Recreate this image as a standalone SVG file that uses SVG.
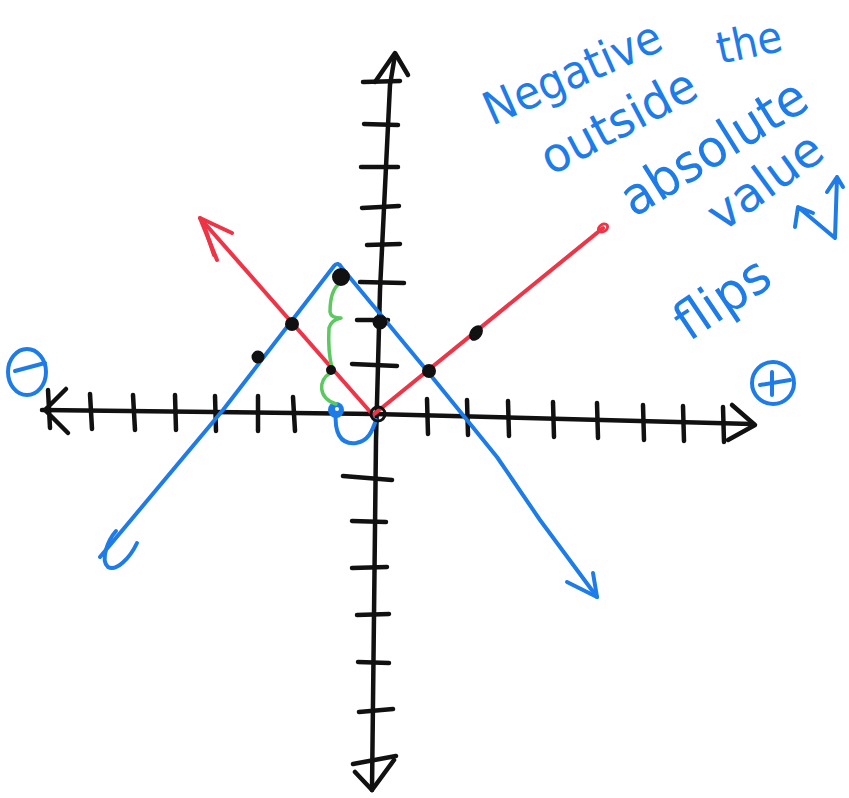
<svg xmlns="http://www.w3.org/2000/svg" width="849" height="798" viewBox="0 0 849 798">
<style>
.k{fill:none;stroke:#111;stroke-width:4.5;stroke-linecap:round;stroke-linejoin:round}
.r{fill:none;stroke:#ee3446;stroke-width:4;stroke-linecap:round;stroke-linejoin:round}
.b{fill:none;stroke:#1d7ce8;stroke-width:4;stroke-linecap:round;stroke-linejoin:round}
.g{fill:none;stroke:#5cc860;stroke-width:3.5;stroke-linecap:round;stroke-linejoin:round}
.dot{fill:#111;stroke:#111;stroke-width:2}
.t{font-family:"DejaVu Sans","Noto Sans",sans-serif;fill:#1d7ce8;font-weight:normal}
</style>
<rect width="849" height="798" fill="#fff"/>
<g id="x-axis">
<path class="k" d="M42,410 L375,414 L752,424"/>
<path class="k" d="M66,389 L45,410 L68,433 M48,390 L50,428"/>
<path class="k" d="M732,405 L755,425 L728,440"/>
<path class="k" d="M90,394 L92,429 M133,395 L135,430 M175,395 L176,430 M215,396 L216,431 M258,396 L258,431 M293,397 L295,431 M427,399 L428,434 M467,400 L468,435 M508,401 L509,436 M553,402 L554,437 M597,403 L598,438 M643,405 L644,440 M683,406 L684,441 M723,407 L724,442"/>
</g>
<g id="y-axis">
<path class="k" d="M395,55 L390,85 L380,290 L376,440 L372,790"/>
<path class="k" d="M375,82 L395,53 L408,75"/>
<path class="k" d="M355,772 L372,790 L394,760"/>
<path class="k" d="M363,82 L400,81 M364,124 L398,125 M361,167 L398,167 M362,208 L399,206 M367,245 L400,244 M360,282 L404,283 M357,320 L388,320 M352,364 L397,366 M343,476 L392,480 M352,521 L386,522 M352,568 L387,567 M357,615 L389,614 M358,662 L389,663 M359,712 L393,709 M353,764 L396,756"/>
</g>
<g id="red-graph">
<path class="r" d="M200,218 L373,415 L603,228"/>
<path class="r" d="M232,233 L200,218 L217,260"/>
<path class="r" d="M203,222 L214,255" stroke-width="6"/>
<ellipse cx="603" cy="228" rx="5" ry="3.5" transform="rotate(-35 603 228)" fill="none" stroke="#ee3446" stroke-width="3"/>
</g>
<g id="blue-graph">
<path class="b" d="M100,557 L223,410 L334,266 Q338,261 342,268 L428,372 L497,457 L540,520 L597,597"/>
<path class="b" d="M567,582 L597,597 L593,573"/>
<path class="b" d="M116,531 C108,540 100,560 108,567 C116,572 130,558 137,543"/>
<path class="b" d="M336,411 C334,432 340,445 356,443 C368,441 372,432 376,420"/>
<circle cx="336" cy="410" r="8" fill="#1d7ce8"/>
<circle cx="337" cy="409" r="2" fill="#fff"/>
</g>
<g id="brace">
<path class="g" d="M340,283 C330,290 330,305 330,312 Q331,318 341,318 Q331,320 329,328 C328,345 330,360 332,368"/>
<path class="g" d="M330,373 C318,381 318,398 336,404"/>
</g>
<g id="points">
<circle class="dot" cx="292" cy="324" r="6"/>
<circle class="dot" cx="258" cy="357" r="5.5"/>
<circle cx="341" cy="277" r="7.5" fill="#111" stroke="#111" stroke-width="3"/>
<circle class="dot" cx="331" cy="370" r="4"/>
<circle class="dot" cx="380" cy="322" r="6.5"/>
<circle class="dot" cx="429" cy="371" r="6"/>
<ellipse class="dot" cx="476" cy="333" rx="5" ry="7.5" transform="rotate(35 476 333)"/>
<circle cx="378" cy="414" r="7" fill="none" stroke="#111" stroke-width="3"/>
</g>
<g id="signs">
<ellipse class="b" cx="27" cy="372" rx="19" ry="23"/>
<path class="b" d="M15,371 L45,363"/>
<circle class="b" cx="773" cy="383" r="21"/>
<path class="b" d="M760,385 L790,380 M772,372 L772,395"/>
</g>
<g id="note">
<text class="t" font-size="46" transform="translate(492,126) rotate(-24)" textLength="190" lengthAdjust="spacingAndGlyphs">Negative</text>
<text class="t" font-size="44" transform="translate(720,64) rotate(-12)" textLength="66" lengthAdjust="spacingAndGlyphs">the</text>
<text class="t" font-size="48" transform="translate(551,176) rotate(-28)" textLength="170" lengthAdjust="spacingAndGlyphs">outside</text>
<text class="t" font-size="52" transform="translate(634,218) rotate(-32)" textLength="210" lengthAdjust="spacingAndGlyphs">absolute</text>
<text class="t" font-size="48" transform="translate(722,233) rotate(-36)" textLength="130" lengthAdjust="spacingAndGlyphs">value</text>
<text class="t" font-size="52" transform="translate(689,342) rotate(-34)" textLength="104" lengthAdjust="spacingAndGlyphs">flips</text>
<path class="b" d="M835,238 L837,177 M827,192 L837,177 L843,187 M835,238 L798,207 M795,227 L798,207 L813,213"/>
</g>
</svg>
